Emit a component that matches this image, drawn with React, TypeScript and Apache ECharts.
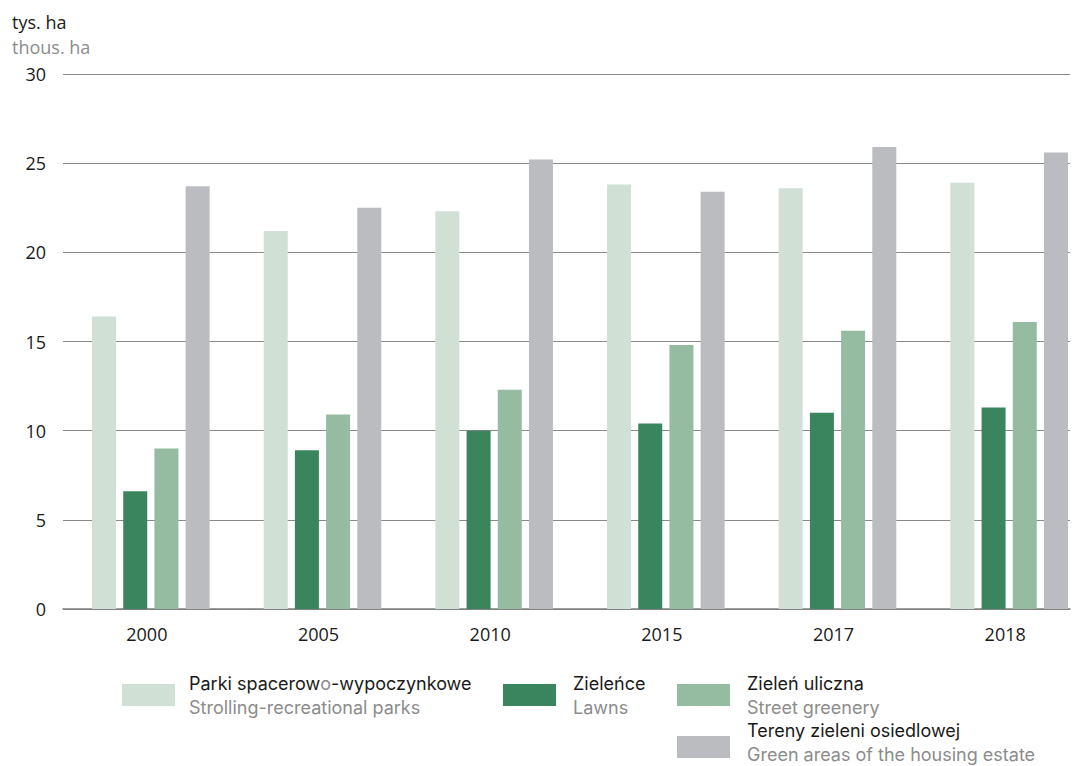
import React, { useEffect, useRef } from "react";
import * as echarts from "echarts";

const years = ["2000", "2005", "2010", "2015", "2017", "2018"];
const parks = [16.4, 21.2, 22.3, 23.8, 23.6, 23.9];
const lawns = [6.6, 8.9, 10.0, 10.4, 11.0, 11.3];
const street = [9.0, 10.9, 12.3, 14.8, 15.6, 16.1];
const housing = [23.7, 22.5, 25.2, 23.4, 25.9, 25.6];
const yTicks = [0, 5, 10, 15, 20, 25, 30];

const seriesNames = [
  ["Parki spacerowo-wypoczynkowe", "Strolling-recreational parks"],
  ["Zieleńce", "Lawns"],
  ["Zieleń uliczna", "Street greenery"],
  ["Tereny zieleni osiedlowej", "Green areas of the housing estate"],
];
const colors = ["#d0e0d5", "#3a845e", "#95bba0", "#bbbcc0"];

const FONT = "'Open Sans', 'Noto Sans', sans-serif";
const LFONT = "Inter, 'Open Sans', sans-serif";
const BLACK = "#1a1a1a";
const GRAY = "#8c8c8c";

export default function App() {
  const ref = useRef<HTMLDivElement>(null);
  useEffect(() => {
    if (!ref.current) return;
    const chart = echarts.init(ref.current, null, { renderer: "svg" });
    const dataSets = [parks, lawns, street, housing];

    const legendPos = [
      { rx: 122, ry: 684, tx: 189, ty: 683 },
      { rx: 503, ry: 684, tx: 573, ty: 683 },
      { rx: 677, ry: 684, tx: 747, ty: 683 },
      { rx: 677, ry: 736, tx: 747, ty: 730 },
    ];
    const legendGraphics: any[] = [];
    seriesNames.forEach((names, i) => {
      const p = legendPos[i];
      legendGraphics.push({
        type: "rect",
        shape: { x: p.rx, y: p.ry, width: 53, height: 22 },
        style: { fill: colors[i] },
      });
      const first =
        i === 0
          ? {
              text: "Parki spacerow{g|o}-wypoczynkowe",
              rich: { g: { fill: GRAY, fontSize: 18, fontFamily: LFONT, lineHeight: 18 } },
            }
          : { text: names[0] };
      legendGraphics.push({
        type: "text",
        x: p.tx,
        y: p.ty,
        style: {
          ...first,
          fill: BLACK,
          fontSize: 18,
          lineHeight: 18,
          fontFamily: LFONT,
          verticalAlign: "middle",
        },
      });
      legendGraphics.push({
        type: "text",
        x: p.tx,
        y: p.ty + 24,
        style: {
          text: names[1],
          fill: GRAY,
          fontSize: 18,
          lineHeight: 18,
          fontFamily: LFONT,
          verticalAlign: "middle",
        },
      });
    });

    const option: any = {
      animation: false,
      backgroundColor: "#ffffff",
      textStyle: { fontFamily: FONT },
      grid: [
        { left: 63, width: 1007, top: 74, height: 535, outerBoundsMode: "none" },
        { left: 65, width: 1030, top: 74, height: 535, outerBoundsMode: "none" },
      ],
      xAxis: [
        {
          type: "category",
          gridIndex: 0,
          data: years,
          axisLine: { show: true, lineStyle: { color: "#7f7f7f", width: 1.5 } },
          axisTick: { show: false },
          axisLabel: { show: false },
        },
        {
          type: "category",
          gridIndex: 1,
          data: years,
          axisLine: { show: false },
          axisTick: { show: false },
          axisLabel: {
            color: BLACK,
            fontSize: 18,
            fontFamily: FONT,
            margin: 16,
            padding: [0, 8, 0, 0],
          },
        },
      ],
      yAxis: [
        {
          type: "value",
          gridIndex: 0,
          min: yTicks[0],
          max: yTicks[yTicks.length - 1],
          interval: 5,
          axisLine: { show: false },
          axisTick: { show: false },
          axisLabel: { color: BLACK, fontSize: 18, fontFamily: FONT, margin: 17 },
          splitLine: { show: true, lineStyle: { color: "#8a8a8a", width: 1 } },
        },
        {
          type: "value",
          gridIndex: 1,
          min: 0,
          max: 30,
          interval: 5,
          show: false,
          splitLine: { show: false },
        },
      ],
      series: dataSets.map((d, i) => ({
        type: "bar",
        name: seriesNames[i][0],
        xAxisIndex: 1,
        yAxisIndex: 1,
        data: d,
        barWidth: 24,
        barGap: "30%",
        itemStyle: { color: colors[i] },
      })),
      graphic: [
        {
          type: "text",
          x: 12,
          y: 22,
          style: { text: "tys. ha", fill: BLACK, fontSize: 18, lineHeight: 18, fontFamily: FONT, verticalAlign: "middle" },
        },
        {
          type: "text",
          x: 12,
          y: 47,
          style: { text: "thous. ha", fill: GRAY, fontSize: 18, lineHeight: 18, fontFamily: FONT, verticalAlign: "middle" },
        },
        ...legendGraphics,
      ],
    };
    chart.setOption(option);
    return () => chart.dispose();
  }, []);
  return (
    <div
      ref={ref}
      style={{ position: "fixed", left: 0, top: 0, width: 1085, height: 766 }}
    />
  );
}
